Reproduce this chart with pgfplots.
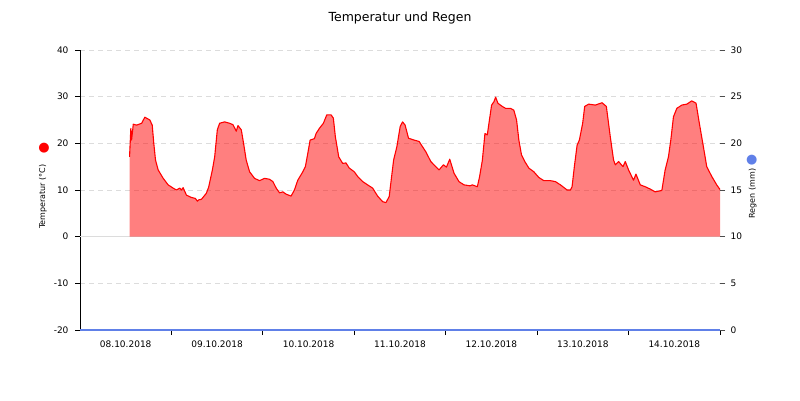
\documentclass[border=0pt]{standalone}
\usepackage{pgfplots}
\usepackage{pgfplotstable}
\pgfplotsset{compat=1.18}
\usepackage{fontspec}
\setmainfont{DejaVu Sans}
\definecolor{rainblue}{RGB}{96,128,232}
\definecolor{gridgray}{RGB}{220,220,220}
\pgfplotstableread{
d T
0.542 17.1
0.556 23.2
0.564 20.7
0.583 24.1
0.619 23.9
0.674 24.3
0.709 25.6
0.764 25.0
0.790 23.9
0.807 20.0
0.826 16.4
0.855 14.3
0.910 12.5
0.964 11.1
1.019 10.4
1.055 10.0
1.091 10.4
1.110 10.0
1.128 10.5
1.164 8.9
1.219 8.4
1.262 8.2
1.284 7.6
1.300 7.9
1.328 8.0
1.382 9.3
1.407 10.6
1.448 14.3
1.473 17.1
1.502 22.9
1.527 24.3
1.582 24.6
1.636 24.3
1.673 24.0
1.709 22.6
1.728 23.8
1.764 22.9
1.789 20.0
1.818 16.4
1.855 13.9
1.909 12.5
1.964 12.0
2.018 12.5
2.073 12.3
2.110 11.8
2.146 10.4
2.182 9.4
2.219 9.6
2.255 9.1
2.309 8.7
2.345 10.0
2.382 12.1
2.437 13.9
2.465 15.0
2.492 17.9
2.517 20.7
2.564 21.0
2.582 22.1
2.618 23.2
2.662 24.3
2.699 26.1
2.746 26.1
2.771 25.4
2.793 21.4
2.830 17.1
2.873 15.7
2.909 15.8
2.945 14.7
3.000 13.9
3.037 12.9
3.092 11.8
3.146 11.1
3.201 10.4
3.255 8.7
3.310 7.5
3.346 7.3
3.382 8.6
3.430 16.4
3.466 19.3
3.502 23.6
3.528 24.6
3.556 23.9
3.593 21.1
3.654 20.7
3.709 20.4
3.782 18.2
3.837 16.1
3.891 15.0
3.927 14.3
3.975 15.4
4.008 14.9
4.044 16.6
4.091 13.6
4.145 11.8
4.200 11.1
4.265 10.9
4.292 11.1
4.346 10.7
4.371 12.9
4.401 16.4
4.429 22.1
4.455 21.8
4.473 24.3
4.502 28.2
4.527 28.9
4.546 29.9
4.571 28.6
4.619 27.9
4.655 27.5
4.709 27.5
4.745 27.1
4.775 25.0
4.800 20.7
4.829 17.5
4.865 16.1
4.909 14.7
4.964 13.9
5.018 12.7
5.073 12.0
5.146 12.0
5.200 11.8
5.255 11.1
5.328 10.0
5.364 10.0
5.382 10.7
5.407 15.0
5.437 19.6
5.462 20.7
5.498 24.3
5.520 27.9
5.563 28.4
5.637 28.2
5.710 28.7
5.757 27.9
5.800 21.4
5.836 16.4
5.855 15.4
5.891 16.1
5.939 15.0
5.964 16.1
6.000 14.3
6.054 12.1
6.081 13.4
6.128 11.1
6.182 10.7
6.237 10.2
6.291 9.6
6.364 9.9
6.400 14.3
6.436 17.1
6.462 20.7
6.491 25.7
6.528 27.5
6.582 28.2
6.637 28.4
6.691 29.1
6.738 28.6
6.774 24.3
6.818 19.3
6.855 15.0
6.910 12.9
6.964 11.1
7.000 10.1
}\temptable
\begin{document}
\begin{tikzpicture}
\useasboundingbox (0,0) rectangle (800pt,400pt);
\begin{axis}[
  at={(80pt,70pt)}, anchor=south west,
  scale only axis, width=640pt, height=280pt,
  xmin=0, xmax=7, ymin=-20, ymax=40,
  axis x line*=bottom, axis y line*=left,
  axis line style={black, line width=0.8pt, -},
  xtick={1,2,3,4,5,6,7}, xticklabels={},
  extra x ticks={0.5,1.5,2.5,3.5,4.5,5.5,6.5},
  extra x tick labels={08.10.2018,09.10.2018,10.10.2018,11.10.2018,12.10.2018,13.10.2018,14.10.2018},
  extra x tick style={major tick length=0pt, grid=none},
  ytick={-20,-10,0,10,20,30,40},
  ymajorgrids, major grid style={gridgray, dash pattern=on 5pt off 4pt, line width=0.8pt},
  tick align=outside, major tick length=5pt,
  tick style={black, line width=0.8pt},
  tick label style={font=\fontsize{9}{10}\selectfont},
  /pgf/number format/assume math mode=true,
  yticklabel style={xshift=-3pt},
  xticklabel style={yshift=-7pt},
  clip=false,
]
\draw[gridgray, line width=0.8pt] (axis cs:0,0) -- (axis cs:7,0);
\addplot[draw=none, fill=red, fill opacity=0.5] table[x=d,y=T] {\temptable} \closedcycle;
\addplot[red, line width=1.1pt, line join=round] table[x=d,y=T] {\temptable};
\end{axis}
\begin{axis}[
  at={(80pt,70pt)}, anchor=south west,
  scale only axis, width=640pt, height=280pt,
  xmin=0, xmax=7, ymin=0, ymax=30,
  axis x line=none, axis y line*=right,
  y axis line style={draw=none},
  ytick={0,5,10,15,20,25,30},
  tick align=outside, major tick length=5pt,
  tick style={black!70, line width=0.8pt},
  tick label style={font=\fontsize{9}{10}\selectfont},
  /pgf/number format/assume math mode=true,
  yticklabel style={xshift=2pt},
  clip=false,
]
\addplot[rainblue, line width=1.6pt] coordinates {(0,0) (7,0)};
\end{axis}
\node[font=\fontsize{12.5}{14}\selectfont] at (400pt,382pt) {Temperatur und Regen};
\node[rotate=90, font=\fontsize{8}{10}\selectfont] at (43pt,203.5pt) {Temperatur (°C)};
\node[text=red, font=\fontsize{13}{14}\selectfont, inner sep=0pt] at (44pt,252pt) {●};
\node[rotate=90, font=\fontsize{8}{10}\selectfont] at (752.7pt,206.5pt) {Regen (mm)};
\node[text=rainblue, font=\fontsize{13}{14}\selectfont, inner sep=0pt] at (751.7pt,240pt) {●};
\end{tikzpicture}
\end{document}
